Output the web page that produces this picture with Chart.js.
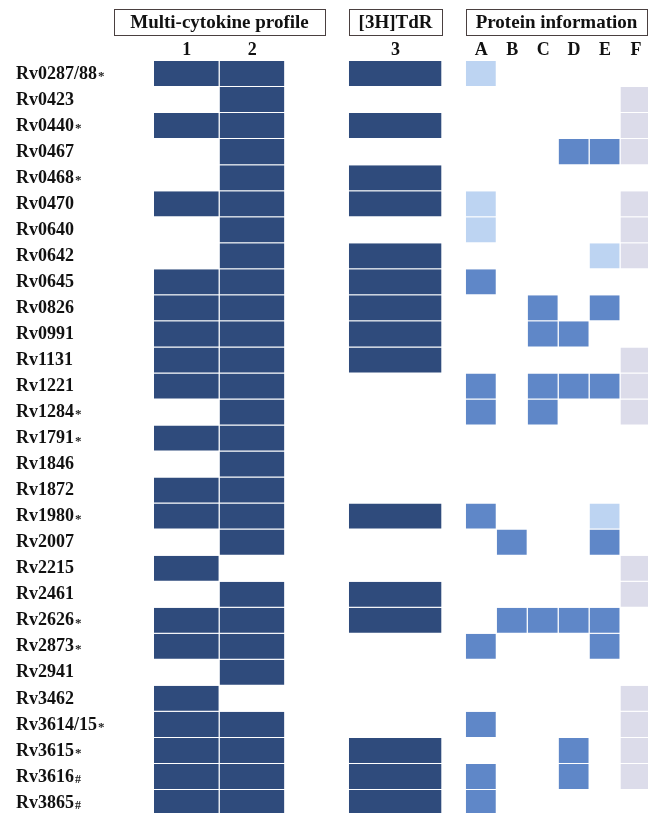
<!DOCTYPE html>
<html>
<head>
<meta charset="utf-8">
<script src="https://cdn.jsdelivr.net/npm/chart.js@4.4.1/dist/chart.umd.min.js"></script>
<style>
  html, body { margin: 0; padding: 0; background: #fff; overflow: hidden; }
  canvas { display: block; }
</style>
</head>
<body>
<canvas id="grid" width="648" height="816"></canvas>
<script>
// gene rows, top to bottom
const genes = ["Rv0287/88", "Rv0423", "Rv0440", "Rv0467", "Rv0468", "Rv0470", "Rv0640", "Rv0642",
  "Rv0645", "Rv0826", "Rv0991", "Rv1131", "Rv1221", "Rv1284", "Rv1791", "Rv1846", "Rv1872",
  "Rv1980", "Rv2007", "Rv2215", "Rv2461", "Rv2626", "Rv2873", "Rv2941", "Rv3462", "Rv3614/15",
  "Rv3615", "Rv3616", "Rv3865"];
const geneMarks = ["*", "", "*", "", "*", "", "", "", "", "", "", "", "", "*", "*", "", "",
  "*", "", "", "", "*", "*", "", "", "*", "*", "#", "#"];

// 1 = positive
const cytokine1 = [1,0,1,0,0,1,0,0,1,1,1,1,1,0,1,0,1,1,0,1,0,1,1,0,1,1,1,1,1];
const cytokine2 = [1,1,1,1,1,1,1,1,1,1,1,1,1,1,1,1,1,1,1,0,1,1,1,1,0,1,1,1,1];
const thymidine3 = [1,0,1,0,1,1,0,1,1,1,1,1,0,0,0,0,0,1,0,0,1,1,0,0,0,0,1,1,1];

// protein information: 1 = light, 2 = strong
const protA = [1,0,0,0,0,1,1,0,2,0,0,0,2,2,0,0,0,2,0,0,0,0,2,0,0,2,0,2,2];
const protB = [0,0,0,0,0,0,0,0,0,0,0,0,0,0,0,0,0,0,2,0,0,2,0,0,0,0,0,0,0];
const protC = [0,0,0,0,0,0,0,0,0,2,2,0,2,2,0,0,0,0,0,0,0,2,0,0,0,0,0,0,0];
const protD = [0,0,0,2,0,0,0,0,0,0,2,0,2,0,0,0,0,0,0,0,0,2,0,0,0,0,2,2,0];
const protE = [0,0,0,2,0,0,0,1,0,2,0,0,2,0,0,0,0,1,2,0,0,2,2,0,0,0,0,0,0];
const protF = [0,1,1,1,0,1,1,1,0,0,0,1,1,1,0,0,0,0,0,1,1,0,0,0,1,1,1,1,0];

const NAVY = [null, "#2f4b7c"];
const BLUES = [null, "#bdd4f2", "#5f87c8"];
const LAVENDER = [null, "#dcdcea"];

// column spans in x-scale units (one unit = one protein column)
const columns = [
  { key: "1", values: cytokine1, span: [0, 2.12], colors: NAVY },
  { key: "2", values: cytokine2, span: [2.12, 4.24], colors: NAVY },
  { key: "3", values: thymidine3, span: [6.3, 9.32], colors: NAVY },
  { key: "A", values: protA, span: [10.08, 11.08], colors: BLUES },
  { key: "B", values: protB, span: [11.08, 12.08], colors: BLUES },
  { key: "C", values: protC, span: [12.08, 13.08], colors: BLUES },
  { key: "D", values: protD, span: [13.08, 14.08], colors: BLUES },
  { key: "E", values: protE, span: [14.08, 15.08], colors: BLUES },
  { key: "F", values: protF, span: [15.08, 16.08], colors: LAVENDER },
];

const groups = [
  { title: "Multi-cytokine profile", from: 0, to: 1, pad: 40 },
  { title: "[3H]TdR", from: 2, to: 2, pad: 0 },
  { title: "Protein information", from: 3, to: 8, pad: 0 },
];

const FONT = '"Liberation Serif", "Times New Roman", serif';

const datasets = columns.map((c) => ({
  label: c.key,
  data: c.values.map((v) => (v ? [c.span[0], c.span[1]] : null)),
  backgroundColor: c.values.map((v) => c.colors[v] || "transparent"),
  borderColor: "rgba(255,255,255,0.9)",
  borderWidth: { top: 0, left: 0, right: 1, bottom: 1 },
  borderSkipped: false,
  inflateAmount: 0,
  grouped: false,
  barPercentage: 1,
  categoryPercentage: 1,
}));

const headerPlugin = {
  id: "headers",
  afterDraw(chart) {
    const ctx = chart.ctx;
    const x = chart.scales.x;
    ctx.save();
    ctx.fillStyle = "#111";
    ctx.textAlign = "center";
    ctx.textBaseline = "middle";
    ctx.font = "bold 18px " + FONT;
    columns.forEach((c) => {
      ctx.fillText(c.key, x.getPixelForValue((c.span[0] + c.span[1]) / 2), 50);
    });
    ctx.strokeStyle = "#4a4040";
    ctx.lineWidth = 1;
    ctx.font = "bold 19px " + FONT;
    groups.forEach((g) => {
      const l = Math.round(x.getPixelForValue(columns[g.from].span[0]) - g.pad);
      const r = Math.round(Math.min(x.getPixelForValue(columns[g.to].span[1]) + g.pad, chart.width - 1));
      ctx.strokeRect(l + 0.5, 9.5, r - l, 26);
      ctx.fillText(g.title, (l + r) / 2, 23);
    });
    ctx.restore();
  },
};

// small * / # after the gene names
const markPlugin = {
  id: "marks",
  afterDraw(chart) {
    const ctx = chart.ctx;
    const y = chart.scales.y;
    ctx.save();
    ctx.fillStyle = "#222";
    ctx.textAlign = "left";
    ctx.textBaseline = "alphabetic";
    genes.forEach((g, i) => {
      if (!geneMarks[i]) return;
      ctx.font = "bold 18px " + FONT;
      const w = ctx.measureText(g).width;
      ctx.font = "bold " + (geneMarks[i] === "#" ? 12 : 13) + "px " + FONT;
      ctx.fillText(geneMarks[i], y.left + w + 1, y.getPixelForTick(i) + 6);
    });
    ctx.restore();
  },
};

new Chart(document.getElementById("grid"), {
  type: "bar",
  data: { labels: genes, datasets: datasets },
  options: {
    indexAxis: "y",
    responsive: false,
    animation: false,
    devicePixelRatio: 1,
    layout: { padding: { top: 61, left: 16, right: 0, bottom: 0 } },
    plugins: { legend: { display: false }, tooltip: { enabled: false } },
    scales: {
      x: { type: "linear", display: false, min: 0, max: 15.97 },
      y: {
        grid: { display: false },
        border: { display: false },
        afterFit(scale) {
          scale.width = 138;
          scale.paddingTop = 0;
          scale.paddingBottom = 0;
        },
        ticks: {
          autoSkip: false,
          crossAlign: "far",
          color: "#111",
          font: { family: FONT, size: 18, weight: "bold" },
        },
      },
    },
  },
  plugins: [headerPlugin, markPlugin],
});
</script>
</body>
</html>
